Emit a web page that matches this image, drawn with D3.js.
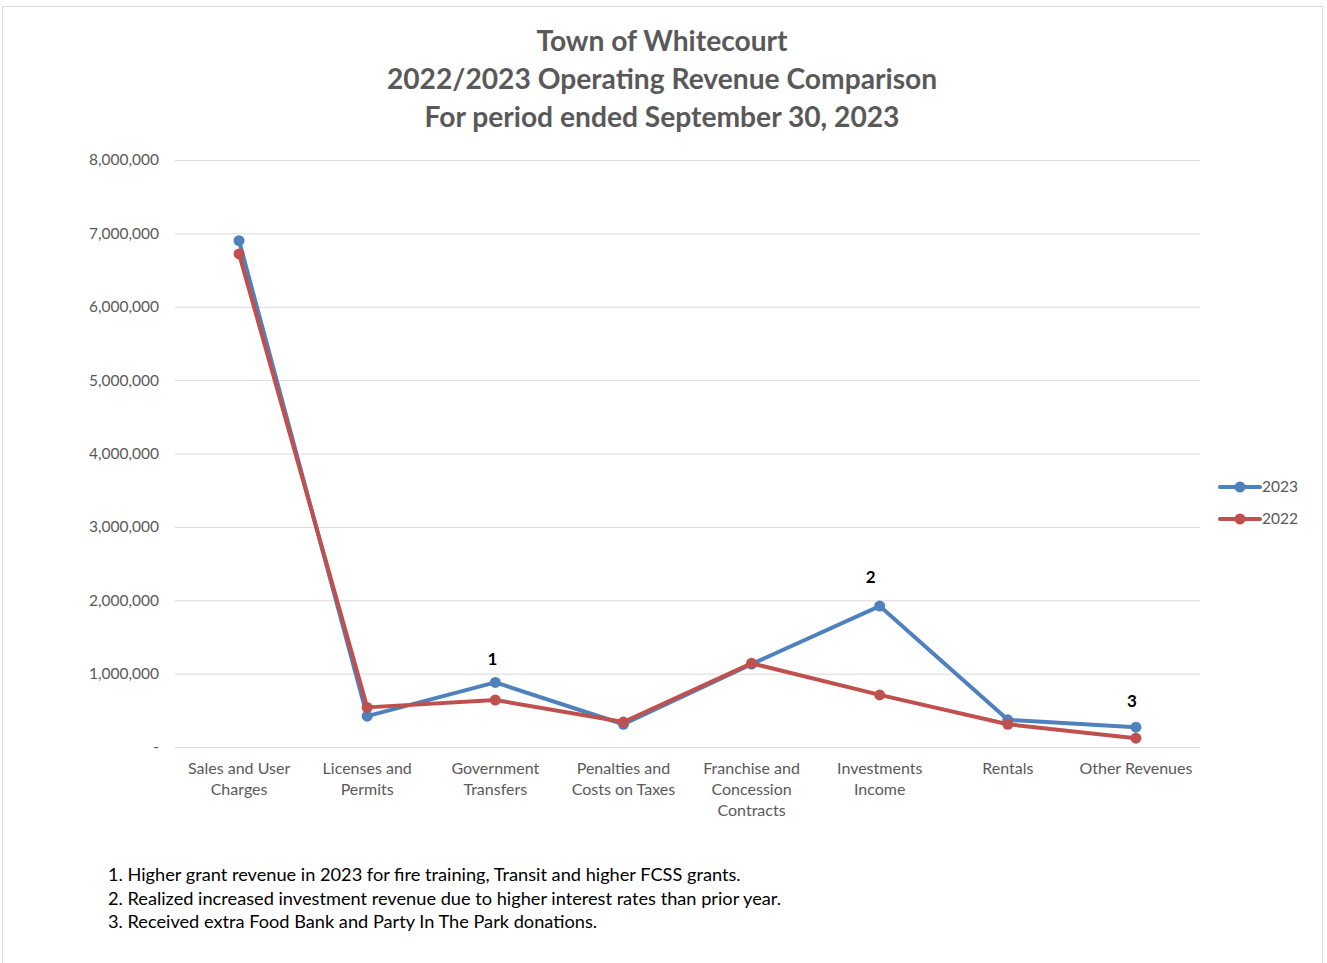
<!DOCTYPE html>
<html>
<head>
<meta charset="utf-8">
<script src="https://cdn.jsdelivr.net/npm/d3@7"></script>
<style>
  body { margin: 0; background: #fff; }
  text { font-family: Lato, "Open Sans", sans-serif; }
</style>
</head>
<body>
<div id="chart"></div>
<script>
// revenue categories, in chart order
const categories = [
  ['Sales and User', 'Charges'],
  ['Licenses and', 'Permits'],
  ['Government', 'Transfers'],
  ['Penalties and', 'Costs on Taxes'],
  ['Franchise and', 'Concession', 'Contracts'],
  ['Investments', 'Income'],
  ['Rentals'],
  ['Other Revenues']
];

// values (dollars)
const rev2023 = [6900000, 420000, 880000, 310000, 1130000, 1920000, 370000, 270000];
const rev2022 = [6720000, 540000, 640000, 340000, 1140000, 710000, 310000, 120000];

const yTicks = [0, 1000000, 2000000, 3000000, 4000000, 5000000, 6000000, 7000000, 8000000];

const titleLines = ['Town of Whitecourt', '2022/2023 Operating Revenue Comparison', 'For period ended September 30, 2023'];

// footnote markers sit above the 2023 point of these categories
const noteIdx = [2, 5, 7];
const notes = [
  '1. Higher grant revenue in 2023 for fire training, Transit and higher FCSS grants.',
  '2. Realized increased investment revenue due to higher interest rates than prior year.',
  '3. Received extra Food Bank and Party In The Park donations.'
];

const series = [
  {name: '2023', values: rev2023, color: '#4F81BD'},
  {name: '2022', values: rev2022, color: '#C0504D'}
];

const W = 1327, H = 963;
const margin = {t:160, r:127, b:216, l:175};
const w = W - margin.l - margin.r;
const h = H - margin.t - margin.b;

const svg = d3.select('#chart').append('svg')
  .attr('width', W)
  .attr('height', H);

// outer chart frame
svg.append('rect')
  .attr('x', 2.5).attr('y', 6.5)
  .attr('width', 1320).attr('height', 970)
  .attr('fill', 'none')
  .attr('stroke', '#d9d9d9');

// title
svg.append('g').selectAll('text')
  .data(titleLines)
  .join('text')
  .attr('x', 662)
  .attr('y', (d, i) => 51 + i * 38)
  .attr('text-anchor', 'middle')
  .attr('font-size', 28.2)
  .attr('font-weight', 'bold')
  .attr('fill', '#595959')
  .text(d => d);

const plot = svg.append('g')
  .attr('transform', `translate(${margin.l}, ${margin.t})`);

const x = d3.scaleBand().domain(d3.range(categories.length)).range([0, w]);
const y = d3.scaleLinear().domain([0, 8000000]).range([h, 0]);

// gridlines + y labels
const yAxis = d3.axisLeft(y)
  .tickValues(yTicks)
  .tickSize(-w)
  .tickPadding(16)
  .tickFormat(d => d === 0 ? '-' : d3.format(',')(d));

plot.append('g')
  .call(yAxis)
  .call(g => g.select('.domain').remove())
  .call(g => g.selectAll('.tick line').attr('stroke', '#d9d9d9'))
  .call(g => g.selectAll('.tick text')
    .attr('fill', '#595959')
    .attr('font-size', 15.5));

// x labels
const xl = plot.append('g')
  .attr('transform', `translate(0, ${h})`)
  .selectAll('text')
  .data(categories)
  .join('text')
  .attr('text-anchor', 'middle')
  .attr('fill', '#595959')
  .attr('font-size', 16)
  .attr('transform', (d, i) => `translate(${x(i) + x.bandwidth()/2}, 0)`);

xl.selectAll('tspan')
  .data(d => d)
  .join('tspan')
  .attr('x', 0)
  .attr('y', (d, i) => 27 + i * 21)
  .text(d => d);

const line = d3.line()
  .x((d, i) => x(i) + x.bandwidth()/2)
  .y(d => y(d));

series.forEach(function(s){
  plot.append('path')
    .datum(s.values)
    .attr('d', line)
    .attr('fill', 'none')
    .attr('stroke', s.color)
    .attr('stroke-width', 4)
    .attr('stroke-linejoin', 'round');

  plot.append('g').selectAll('circle')
    .data(s.values)
    .join('circle')
    .attr('cx', (d, i) => x(i) + x.bandwidth()/2)
    .attr('cy', d => y(d))
    .attr('r', 5.5)
    .attr('fill', s.color);
});

// note markers (nudged like the hand-placed labels in the original)
const noteDx = [-3, -9, -4];
const noteDy = [-17, -23, -20];
plot.append('g').selectAll('text')
  .data(noteIdx)
  .join('text')
  .attr('x', (d, i) => x(d) + x.bandwidth()/2 + noteDx[i])
  .attr('y', (d, i) => y(rev2023[d]) + noteDy[i])
  .attr('text-anchor', 'middle')
  .attr('font-size', 17)
  .attr('font-weight', 'bold')
  .attr('fill', '#000')
  .text((d, i) => i + 1);

// legend
const legend = svg.append('g')
  .attr('transform', 'translate(1220, 487)');

series.forEach(function(s, i){
  const g = legend.append('g').attr('transform', `translate(0, ${i * 32})`);
  g.append('line')
    .attr('x1', 0).attr('x2', 40)
    .attr('stroke', s.color)
    .attr('stroke-width', 4)
    .attr('stroke-linecap', 'round');
  g.append('circle').attr('cx', 20).attr('r', 5.5).attr('fill', s.color);
  g.append('text')
    .attr('x', 42).attr('dy', '0.35em')
    .attr('font-size', 15.5)
    .attr('fill', '#595959')
    .text(s.name);
});

// footnotes
svg.append('g').selectAll('text')
  .data(notes)
  .join('text')
  .attr('x', 108)
  .attr('y', (d, i) => 881 + i * 23.5)
  .attr('font-size', 18.2)
  .attr('fill', '#000')
  .text(d => d);
</script>
</body>
</html>
